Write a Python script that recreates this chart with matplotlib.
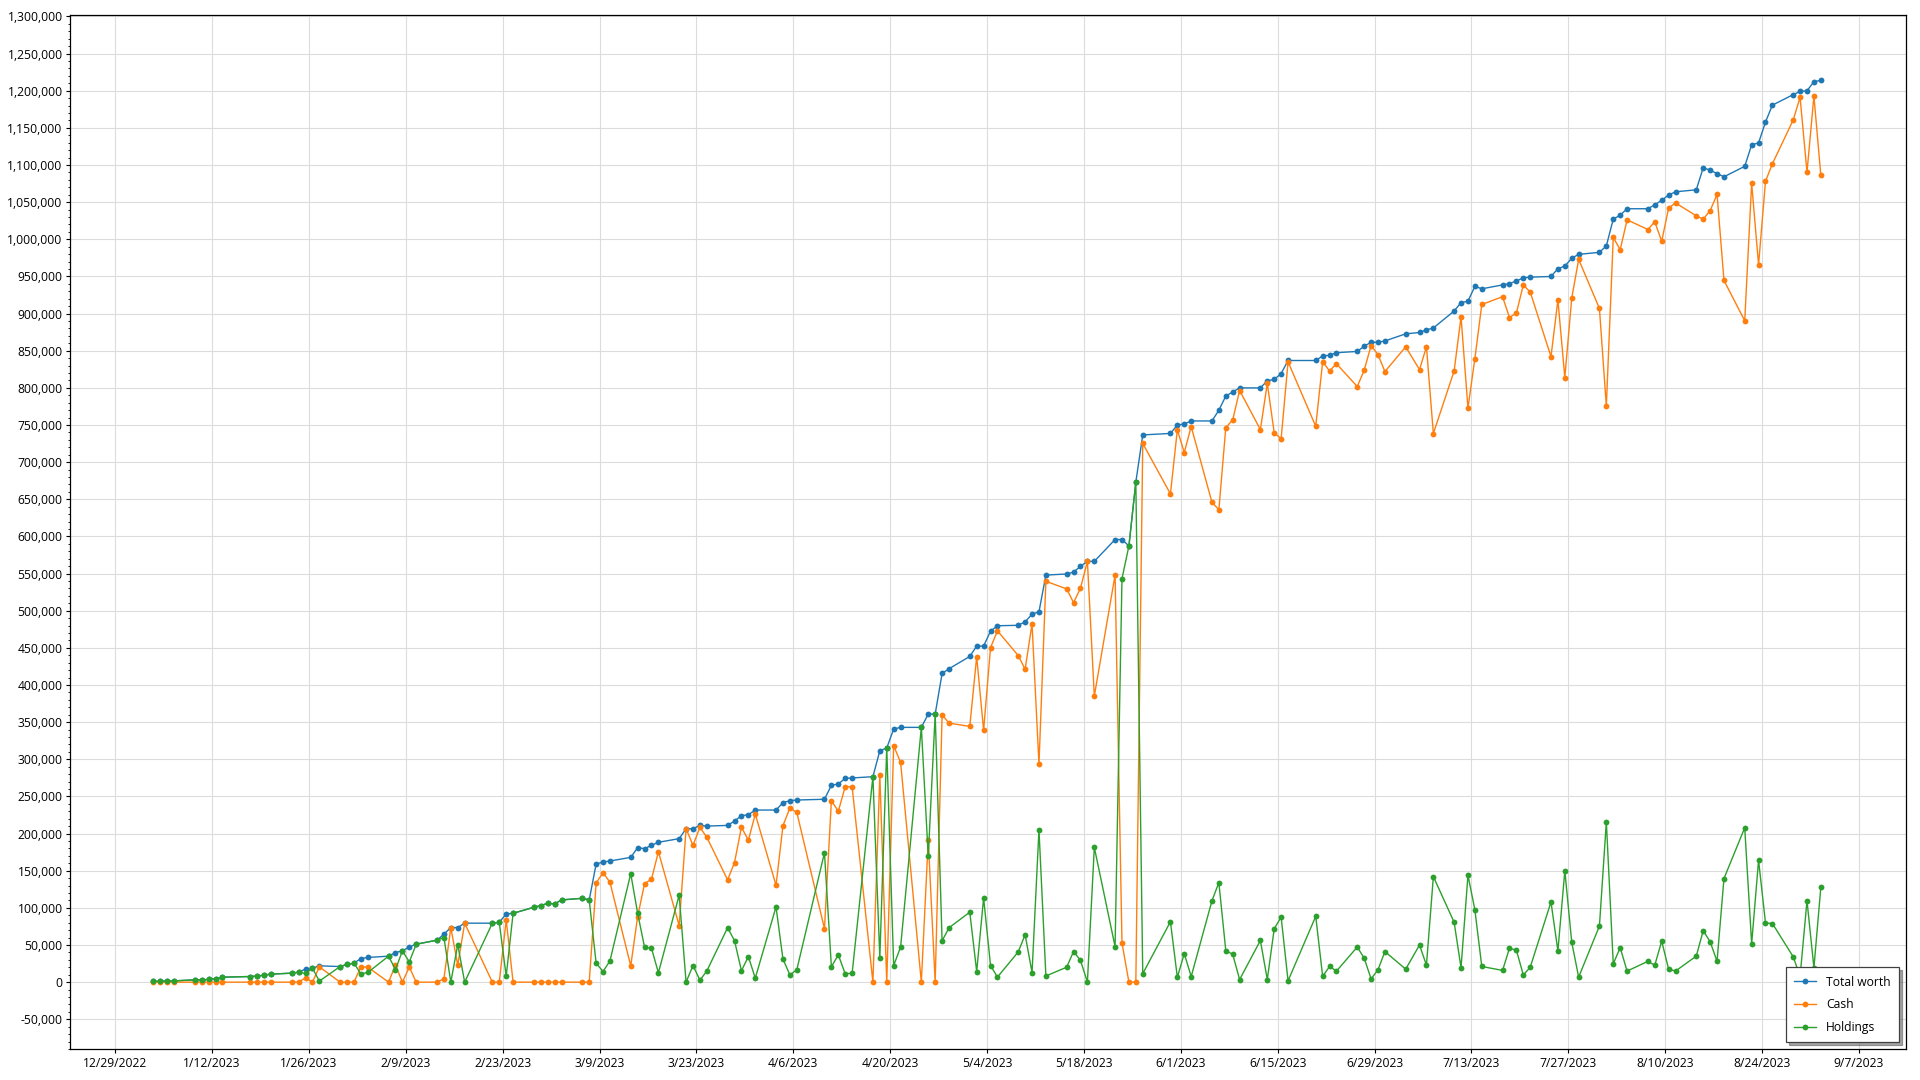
import matplotlib
matplotlib.use("Agg")
import matplotlib.pyplot as plt
import matplotlib.dates as mdates
from matplotlib.ticker import FuncFormatter, MultipleLocator
import pandas as pd

plt.rcParams['font.family'] = ['Open Sans', 'DejaVu Sans']
plt.rcParams['font.size'] = 8.7

# trading days shown in the chart
dates = [
    "2023-01-03", "2023-01-04", "2023-01-05", "2023-01-06", "2023-01-09", "2023-01-10", "2023-01-11",
    "2023-01-12", "2023-01-13", "2023-01-17", "2023-01-18", "2023-01-19", "2023-01-20", "2023-01-23",
    "2023-01-24", "2023-01-25", "2023-01-26", "2023-01-27", "2023-01-30", "2023-01-31",
    "2023-02-01", "2023-02-02", "2023-02-03", "2023-02-06", "2023-02-07", "2023-02-08", "2023-02-09",
    "2023-02-10", "2023-02-13", "2023-02-14", "2023-02-15", "2023-02-16", "2023-02-17", "2023-02-21",
    "2023-02-22", "2023-02-23", "2023-02-24", "2023-02-27", "2023-02-28",
    "2023-03-01", "2023-03-02", "2023-03-03", "2023-03-06", "2023-03-07", "2023-03-08", "2023-03-09",
    "2023-03-10", "2023-03-13", "2023-03-14", "2023-03-15", "2023-03-16", "2023-03-17", "2023-03-20",
    "2023-03-21", "2023-03-22", "2023-03-23", "2023-03-24", "2023-03-27", "2023-03-28", "2023-03-29",
    "2023-03-30", "2023-03-31",
    "2023-04-03", "2023-04-04", "2023-04-05", "2023-04-06", "2023-04-10", "2023-04-11", "2023-04-12",
    "2023-04-13", "2023-04-14", "2023-04-17", "2023-04-18", "2023-04-19", "2023-04-20", "2023-04-21",
    "2023-04-24", "2023-04-25", "2023-04-26", "2023-04-27", "2023-04-28",
    "2023-05-01", "2023-05-02", "2023-05-03", "2023-05-04", "2023-05-05", "2023-05-08", "2023-05-09",
    "2023-05-10", "2023-05-11", "2023-05-12", "2023-05-15", "2023-05-16", "2023-05-17", "2023-05-18",
    "2023-05-19", "2023-05-22", "2023-05-23", "2023-05-24", "2023-05-25", "2023-05-26", "2023-05-30",
    "2023-05-31",
    "2023-06-01", "2023-06-02", "2023-06-05", "2023-06-06", "2023-06-07", "2023-06-08", "2023-06-09",
    "2023-06-12", "2023-06-13", "2023-06-14", "2023-06-15", "2023-06-16", "2023-06-20", "2023-06-21",
    "2023-06-22", "2023-06-23", "2023-06-26", "2023-06-27", "2023-06-28", "2023-06-29", "2023-06-30",
    "2023-07-03", "2023-07-05", "2023-07-06", "2023-07-07", "2023-07-10", "2023-07-11", "2023-07-12",
    "2023-07-13", "2023-07-14", "2023-07-17", "2023-07-18", "2023-07-19", "2023-07-20", "2023-07-21",
    "2023-07-24", "2023-07-25", "2023-07-26", "2023-07-27", "2023-07-28", "2023-07-31",
    "2023-08-01", "2023-08-02", "2023-08-03", "2023-08-04", "2023-08-07", "2023-08-08", "2023-08-09",
    "2023-08-10", "2023-08-11", "2023-08-14", "2023-08-15", "2023-08-16", "2023-08-17", "2023-08-18",
    "2023-08-21", "2023-08-22", "2023-08-23", "2023-08-24", "2023-08-25", "2023-08-28", "2023-08-29",
    "2023-08-30", "2023-08-31", "2023-09-01",
]

total_worth = [
    1000, 1200, 1500, 1700, 3100, 3200, 3600, 4900, 6700, 7600, 8100, 9400, 10800, 12100, 13500,
    17500, 18800, 22000, 21000, 23800,
    25600, 31800, 33200, 35000, 39900, 42100, 47500, 51100, 56500, 64600, 73500, 73500, 79400,
    79400, 80500, 91800, 92700, 100800, 103000,
    106200, 105300, 110700, 112900, 110700, 159000, 161700, 163100, 168000, 181000, 179700, 184200,
    188300, 193200, 206600, 206600, 211000, 210100, 211000, 216900, 224100, 225400, 231700,
    231700, 241600, 244300, 245200, 246200, 265000, 266800, 274400, 274900, 276600, 311600, 315200,
    340700, 343000, 343000, 360900, 360900, 415600, 421900,
    438500, 452400, 452400, 472600, 479800, 480400, 485100, 495400, 498500, 548000, 549500, 552100,
    559800, 566500, 566500, 595900, 595900, 587200, 673200, 736700, 738700, 750000,
    751500, 755500, 755500, 770000, 789000, 794500, 800000, 800000, 809600, 811400, 819300, 836900,
    836900, 843000, 843900, 847400, 849100, 856100, 861400, 861400, 863200,
    872800, 874600, 878100, 880700, 903500, 914900, 916700, 936800, 933400, 938600, 940400, 943900,
    948300, 949100, 950000, 960500, 964000, 974600, 979800, 982500,
    991200, 1027200, 1032500, 1041200, 1041200, 1046500, 1052600, 1059700, 1064000, 1066700,
    1096500, 1093000, 1088600, 1084200, 1098300, 1127200, 1129800, 1157900, 1180700, 1194800,
    1199100, 1200000, 1212300, 1214000,
]

cash = [
    0, 0, 0, 0, 0, 0, 0, 0, 0, 0, 0, 0, 0, 0, 0, 5800, 0, 20600, 0, 0,
    0, 20600, 20200, 0, 22900, 0, 20200, 0, 0, 4500, 73500, 22900, 79400, 0, 0, 83800, 0, 0, 0,
    0, 0, 0, 0, 0, 133500, 147400, 134400, 21900, 88300, 132700, 138500, 175700, 76100, 206600,
    184200, 208400, 195000, 137700, 161000, 208800, 190900, 226300,
    130300, 210600, 234400, 228600, 72000, 244300, 230000, 263200, 262800, 0, 278800, 0, 318300,
    295900, 0, 191700, 0, 360000, 348700,
    344300, 438100, 339000, 450200, 473000, 439700, 421200, 482500, 293300, 539700, 529400, 510900,
    530400, 566500, 385100, 548000, 52600, 0, 0, 725300, 657300, 743500,
    713000, 748000, 646000, 636000, 746500, 757000, 796500, 743900, 806100, 739500, 731600, 835100,
    748300, 835100, 822800, 832500, 801800, 823700, 857000, 844700, 822000,
    855300, 824600, 855300, 738600, 822800, 895600, 772800, 839500, 912300, 922800, 894700, 900900,
    938600, 929000, 842100, 918400, 814000, 921000, 973000, 907000,
    775500, 1002600, 986000, 1026300, 1013200, 1023700, 997400, 1042100, 1049100, 1031600, 1027200,
    1038600, 1060500, 944700, 890400, 1075500, 965800, 1078100, 1101800, 1160500, 1191200, 1090400,
    1193000, 1086000,
]

holdings = [
    1000, 1200, 1500, 1700, 3100, 3200, 3600, 4900, 6700, 7600, 8100, 9400, 10800, 12100, 13500,
    11700, 18800, 1400, 21000, 23800,
    25600, 11200, 13000, 35000, 17000, 42100, 27300, 51100, 56500, 60100, 0, 50600, 0, 79400,
    80500, 8000, 92700, 100800, 103000,
    106200, 105300, 110700, 112900, 110700, 25500, 14300, 28700, 146100, 92700, 47000, 45700,
    12600, 117100, 0, 22400, 2600, 15100, 73300, 55900, 15300, 34500, 5400,
    101400, 31000, 9900, 16600, 174200, 20700, 36800, 11200, 12100, 276600, 32800, 315200, 22400,
    47100, 343000, 169200, 360900, 55600, 73200,
    94200, 14300, 113400, 22400, 6800, 40700, 63900, 12900, 205200, 8300, 20100, 41200, 29400, 0,
    181400, 47900, 543300, 587200, 673200, 11400, 81400, 6500,
    38500, 7500, 109500, 134000, 42500, 37500, 3500, 56100, 3500, 71900, 87700, 1800, 88600, 7900,
    21100, 14900, 47300, 32400, 4400, 16700, 41200,
    17500, 50000, 22800, 142100, 80700, 19300, 143900, 97300, 21100, 15800, 45700, 43000, 9700,
    20100, 107900, 42100, 150000, 53600, 6800, 75500,
    215700, 24600, 46500, 14900, 28000, 22800, 55200, 17600, 14900, 35100, 69300, 54400, 28100,
    139500, 207900, 51700, 164000, 79800, 78900, 34300, 7900, 109600, 19300, 128000,
]

series_names = ["Total worth", "Cash", "Holdings"]
series_colors = ["#1f77b4", "#ff7f0e", "#2ca02c"]

x = pd.to_datetime(dates) + pd.Timedelta(hours=12)

fig = plt.figure(figsize=(19.2, 10.8), dpi=100)
ax = fig.add_axes([0.0366, 0.0287, 0.9559, 0.9574])

for values, name, color in zip([total_worth, cash, holdings], series_names, series_colors):
    ax.plot(x, values, color=color, lw=1.0, marker="o", markersize=4.2,
            markeredgewidth=0, label=name)

ax.set_xlim(pd.Timestamp("2022-12-22 12:00"), pd.Timestamp("2023-09-13 18:00"))
ax.set_ylim(-90000, 1302000)

ticks = pd.date_range("2022-12-29", "2023-09-07", freq="14D")
ax.set_xticks(ticks)
ax.xaxis.set_major_formatter(FuncFormatter(
    lambda v, p: (lambda d: f"{d.month}/{d.day}/{d.year}")(mdates.num2date(v))))

ax.yaxis.set_major_locator(MultipleLocator(50000))
ax.yaxis.set_minor_locator(MultipleLocator(10000))
ax.yaxis.set_major_formatter(FuncFormatter(lambda v, p: f"{int(round(v)):,}"))

ax.grid(True, which="major", color="#dcdcdc", lw=0.8)
ax.set_axisbelow(True)
ax.tick_params(axis="both", which="major", length=3, width=0.8, pad=2.5, colors="black")
ax.tick_params(axis="y", which="minor", length=1.8, width=0.6)
for s in ax.spines.values():
    s.set_linewidth(0.9)
    s.set_color("black")

leg = ax.legend(loc="lower right", fontsize=8.7, frameon=True, fancybox=False, shadow=True,
                borderaxespad=0.55, handlelength=1.8, labelspacing=0.8, borderpad=0.7)
leg.get_frame().set_edgecolor("#404040")
leg.get_frame().set_linewidth(0.9)

fig.savefig("out.png", dpi=100, facecolor="white")
